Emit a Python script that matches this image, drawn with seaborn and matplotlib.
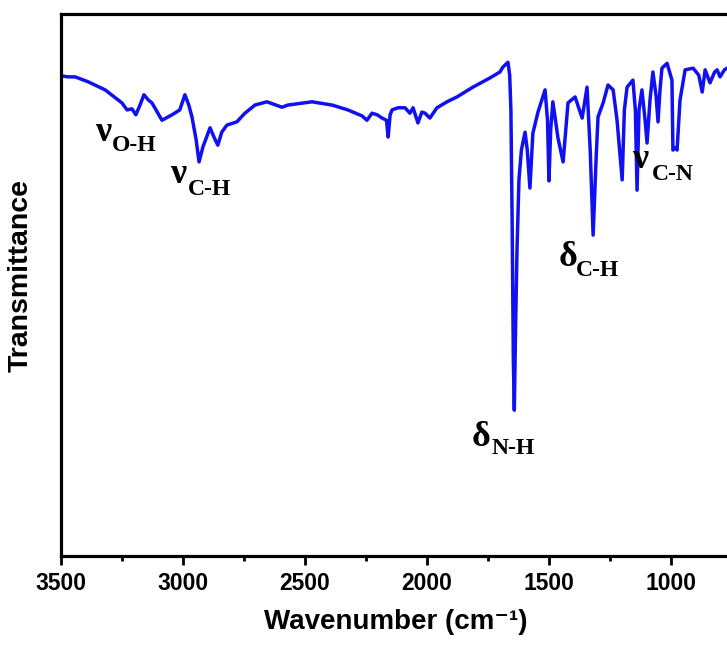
import numpy as np
import pandas as pd
import matplotlib
matplotlib.use("Agg")
import matplotlib.pyplot as plt
import seaborn as sns
from matplotlib.ticker import MultipleLocator

sns.set_theme(style="ticks")
plt.rcParams["font.family"] = ["Liberation Sans", "DejaVu Sans"]
plt.rcParams["text.color"] = "black"
plt.rcParams["axes.labelcolor"] = "black"
plt.rcParams["xtick.color"] = "black"
plt.rcParams["ytick.color"] = "black"

wavenumber = [3500, 3470, 3441, 3388, 3318, 3249, 3228, 3208, 3192, 3175, 3159, 3140, 3126,
              3085, 3044, 3012, 2991, 2975, 2962, 2945, 2933, 2917, 2888, 2870, 2856, 2840,
              2819, 2778, 2745, 2704, 2655, 2593, 2569, 2470, 2388, 2323, 2265, 2245, 2224,
              2203, 2183, 2165, 2158, 2150, 2142, 2118, 2089, 2069, 2056, 2036, 2020, 2007,
              1987, 1958, 1917, 1876, 1811, 1741, 1700, 1688, 1667, 1660, 1655, 1650, 1645,
              1641, 1636, 1630, 1622, 1612, 1597, 1588, 1577, 1565, 1544, 1515, 1505, 1499,
              1492, 1483, 1462, 1441, 1421, 1392, 1363, 1343, 1330, 1318, 1306, 1298, 1277,
              1257, 1236, 1220, 1199, 1190, 1179, 1155, 1145, 1138, 1130, 1118, 1105, 1097,
              1085, 1073, 1060, 1052, 1044, 1036, 1015, 995, 991, 980, 974, 962, 941, 908,
              885, 871, 859, 839, 820, 810, 798, 780, 769]
transmittance = [88.6, 88.4, 88.4, 87.5, 86.0, 83.6, 82.3, 82.5, 81.4, 83.2, 85.1, 84.1, 83.6,
                 80.4, 81.4, 82.3, 85.1, 83.2, 81.0, 76.8, 72.7, 75.5, 79.0, 77.1, 75.8, 78.2,
                 79.5, 80.1, 81.7, 83.2, 83.8, 82.8, 83.2, 83.8, 83.2, 82.3, 81.2, 80.4, 81.7,
                 81.4, 80.8, 80.4, 77.3, 81.4, 82.3, 82.7, 82.7, 81.7, 82.7, 79.9, 81.9, 81.7,
                 80.8, 82.7, 83.8, 84.7, 86.5, 88.2, 89.3, 90.2, 91.1, 88.7, 82.3, 62.0, 36.2,
                 26.9, 41.7, 56.5, 69.4, 74.9, 78.2, 74.9, 67.9, 78.0, 81.9, 86.0, 80.4, 69.2,
                 78.6, 83.8, 77.1, 72.7, 83.6, 84.7, 80.8, 86.5, 74.9, 59.2, 73.1, 81.0, 83.6,
                 86.9, 86.0, 80.4, 69.4, 82.3, 86.5, 87.8, 82.3, 67.5, 82.3, 86.0, 80.4, 76.2,
                 84.1, 89.3, 84.9, 80.1, 86.0, 90.0, 90.9, 87.8, 74.9, 75.3, 74.9, 84.1, 89.7,
                 90.0, 88.7, 85.6, 89.7, 87.3, 89.3, 89.7, 88.4, 89.7, 90.0]

x_ticks = [3500, 3000, 2500, 2000, 1500, 1000]
x_tick_labels = ["3500", "3000", "2500", "2000", "1500", "1000"]

# annotations: main symbol and subscript
ann_main = ["ν", "ν", "δ", "δ", "ν"]
ann_sub = ["O-H", "C-H", "N-H", "C-H", "C-N"]
ann_main_xy = [(3360, 76.6), (3050, 68.8), (1815, 20.3), (1458, 53.5), (1158, 71.5)]
ann_sub_xy = [(3290, 74.7), (2980, 66.6), (1735, 18.8), (1388, 51.6), (1078, 69.4)]

df = pd.DataFrame({"Wavenumber": wavenumber, "Transmittance": transmittance})

W, H = 727, 648
fig = plt.figure(figsize=(W / 100, H / 100), dpi=100)
left_px, right_px, top_px, bot_px = 60.7, 731, 14, 556
ax = fig.add_axes([left_px / W, (H - bot_px) / H, (right_px - left_px) / W, (bot_px - top_px) / H])

sns.lineplot(data=df, x="Wavenumber", y="Transmittance", ax=ax, color="#1010f0",
             lw=2.5, sort=False, estimator=None)

ax.set_xlim(3500, 753)
ax.set_ylim(0, 100)
ax.set_xticks(x_ticks)
ax.set_xticklabels(x_tick_labels, fontsize=16.5, fontweight="bold")
ax.xaxis.set_minor_locator(MultipleLocator(250))
ax.tick_params(axis="x", which="major", length=6.5, width=2, direction="out", pad=5, colors="black")
ax.tick_params(axis="x", which="minor", length=3.5, width=2, direction="out")
ax.set_yticks([])
for s in ax.spines.values():
    s.set_linewidth(2.3)
    s.set_color("black")

ax.set_xlabel("Wavenumber (cm⁻¹)", fontsize=20, fontweight="bold", labelpad=10)
ax.set_ylabel("Transmittance", fontsize=20.5, fontweight="bold")
ax.yaxis.set_label_coords(-27 / (right_px - left_px), (556 - 276) / (bot_px - top_px))

serif = ["Liberation Serif", "DejaVu Serif"]
for m, s, (mx, my), (sx, sy) in zip(ann_main, ann_sub, ann_main_xy, ann_sub_xy):
    ax.text(mx, my, m, fontsize=26, fontweight="bold", family=serif, ha="left", va="baseline", color="black")
    ax.text(sx, sy, s, fontsize=17, fontweight="bold", family=serif, ha="left", va="baseline", color="black")

fig.savefig("out.png", dpi=100)
